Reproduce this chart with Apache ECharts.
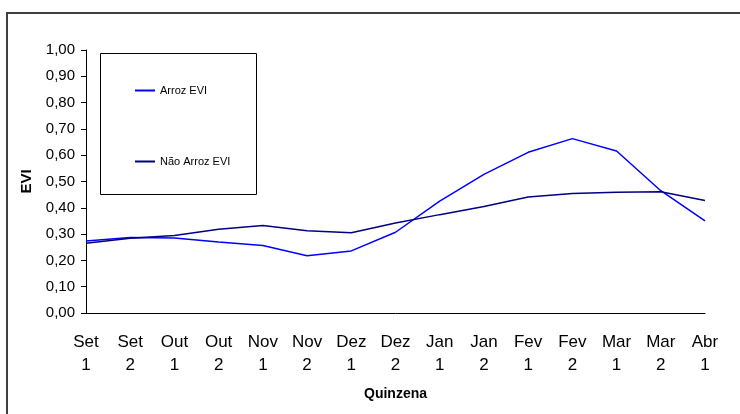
<!DOCTYPE html>
<html>
<head>
<meta charset="utf-8">
<script src="https://cdn.jsdelivr.net/npm/echarts@6/dist/echarts.min.js"></script>
<style>
html, body { margin: 0; padding: 0; background: #fff; }
#container { width: 740px; height: 414px; }
</style>
</head>
<body>
<div id="container"></div>
<script>
var quinzenas = ['Set\n1', 'Set\n2', 'Out\n1', 'Out\n2', 'Nov\n1', 'Nov\n2', 'Dez\n1', 'Dez\n2',
                 'Jan\n1', 'Jan\n2', 'Fev\n1', 'Fev\n2', 'Mar\n1', 'Mar\n2', 'Abr\n1'];
var arrozEVI = [0.274, 0.287, 0.285, 0.270, 0.257, 0.218, 0.236, 0.307,
                0.425, 0.527, 0.611, 0.663, 0.616, 0.465, 0.350];
var naoArrozEVI = [0.265, 0.284, 0.295, 0.318, 0.333, 0.313, 0.305, 0.342,
                   0.374, 0.405, 0.441, 0.454, 0.459, 0.461, 0.428];

var fonte = '"Liberation Sans", Arial, sans-serif';

var myChart = echarts.init(document.getElementById('container'));
var option = {
    animation: false,
    textStyle: { fontFamily: fonte },
    grid: { left: 86, right: 35, top: 50, bottom: 101, containLabel: false },
    graphic: [
        {   // moldura externa
            type: 'rect',
            shape: { x: 7, y: 13, width: 760, height: 420 },
            style: { fill: 'none', stroke: '#404040', lineWidth: 2 },
            z: 100
        },
        {   // caixa da legenda
            type: 'rect',
            shape: { x: 100.5, y: 53.5, width: 156, height: 141 },
            style: { fill: '#fff', stroke: '#000', lineWidth: 1 },
            z: 5
        }
    ],
    legend: {
        orient: 'vertical',
        left: 130,
        top: 80,
        itemGap: 60,
        itemWidth: 20,
        itemHeight: 2,
        icon: 'rect',
        z: 10,
        textStyle: { fontFamily: fonte, fontSize: 11, color: '#000' },
        data: ['Arroz EVI', 'Não Arroz EVI']
    },
    xAxis: {
        type: 'category',
        boundaryGap: false,
        data: quinzenas,
        name: 'Quinzena',
        nameLocation: 'middle',
        nameGap: 74,
        nameTextStyle: { fontFamily: fonte, fontSize: 14, fontWeight: 'bold', color: '#000' },
        axisLine: { lineStyle: { color: '#000', width: 1 } },
        axisTick: { show: false },
        axisLabel: { interval: 0, color: '#000', fontSize: 17, lineHeight: 23, margin: 18, fontFamily: fonte }
    },
    yAxis: {
        type: 'value',
        min: 0,
        max: 1,
        interval: 0.1,
        name: 'EVI',
        nameLocation: 'middle',
        nameGap: 52,
        nameTextStyle: { fontFamily: fonte, fontSize: 15, fontWeight: 'bold', color: '#000' },
        axisLine: { show: true, lineStyle: { color: '#000', width: 1 } },
        axisTick: { show: true, length: 5, lineStyle: { color: '#000' } },
        splitLine: { show: false },
        axisLabel: {
            color: '#000', fontSize: 15, margin: 11, fontFamily: fonte,
            formatter: function (v) { return v.toFixed(2).replace('.', ','); }
        }
    },
    series: [
        {
            name: 'Arroz EVI',
            type: 'line',
            data: arrozEVI,
            showSymbol: false,
            color: '#0000ff',
            lineStyle: { color: '#0000ff', width: 1.5 }
        },
        {
            name: 'Não Arroz EVI',
            type: 'line',
            data: naoArrozEVI,
            showSymbol: false,
            color: '#000080',
            lineStyle: { color: '#000080', width: 1.5 }
        }
    ]
};
myChart.setOption(option, { notMerge: true });
</script>
</body>
</html>
